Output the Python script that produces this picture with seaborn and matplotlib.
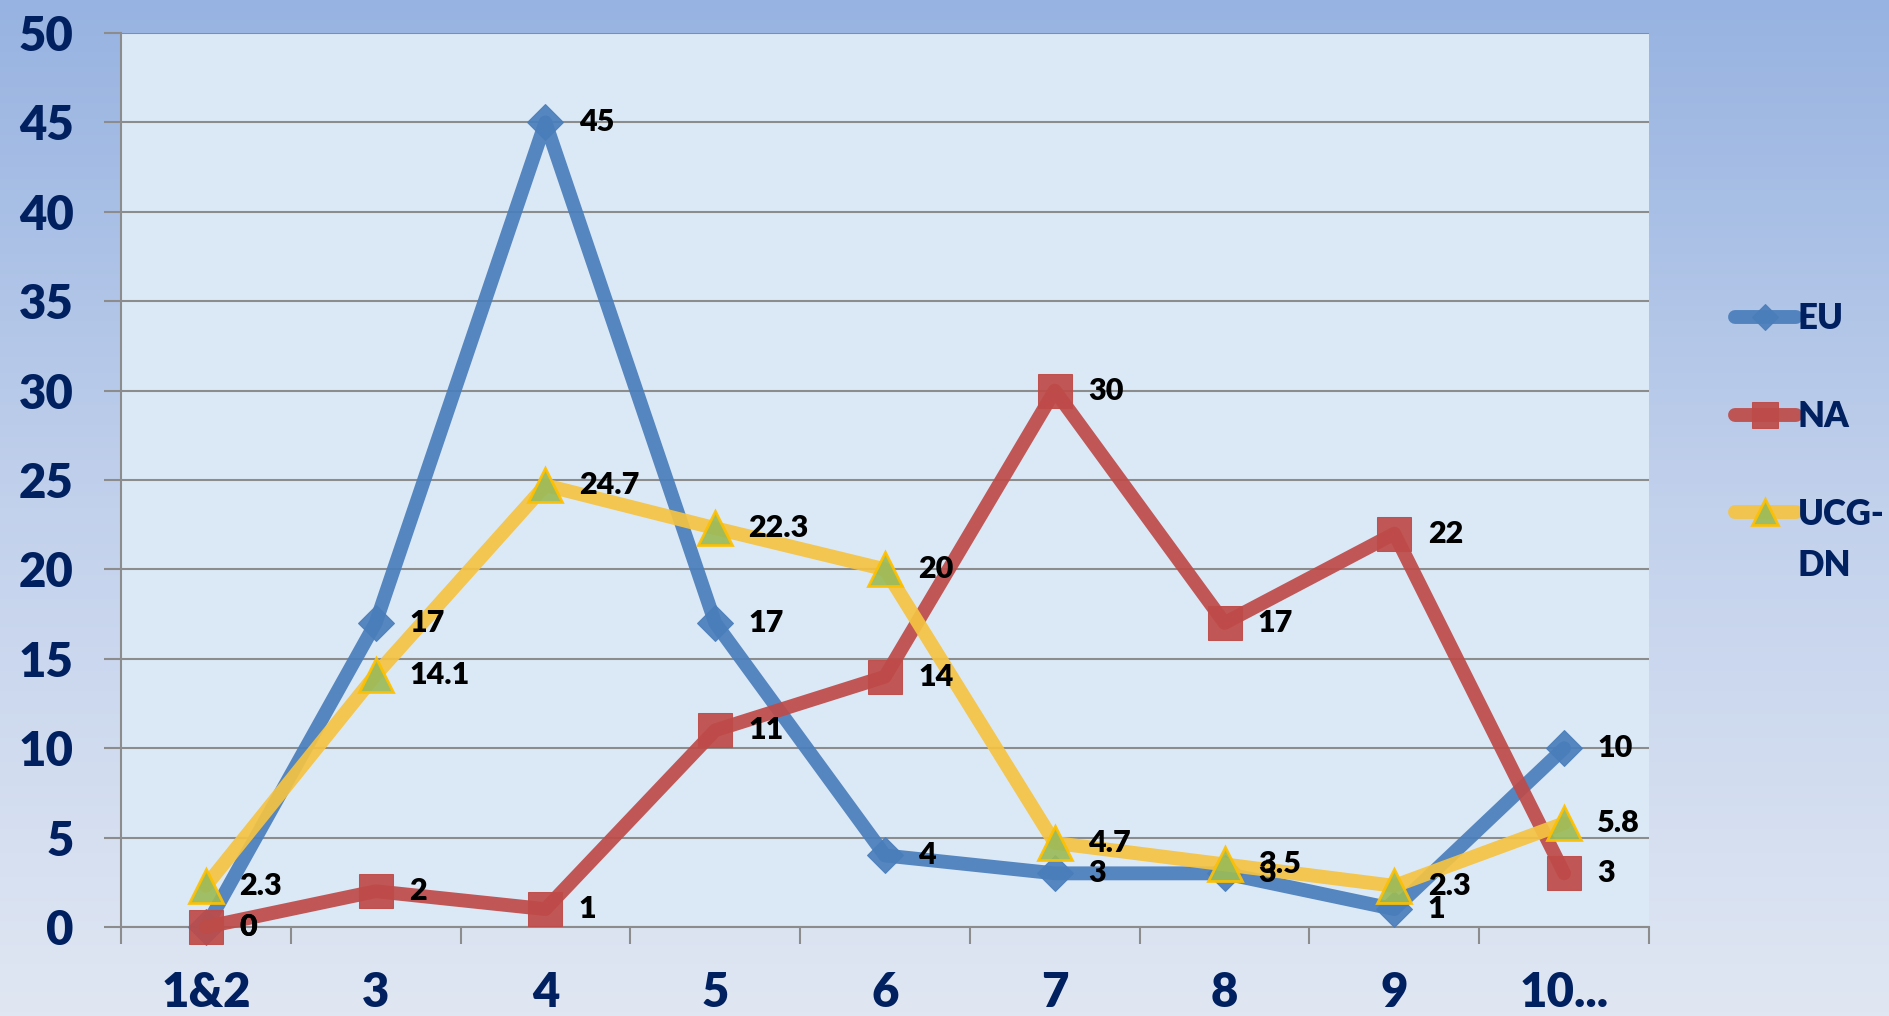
import numpy as np
import pandas as pd
import matplotlib.pyplot as plt
import seaborn as sns
from matplotlib.colors import LinearSegmentedColormap

plt.rcParams['font.family'] = ['Lato', 'DejaVu Sans']
plt.rcParams['font.weight'] = 'heavy'

categories = ['1&2', '3', '4', '5', '6', '7', '8', '9', '10...']
eu = [0, 17, 45, 17, 4, 3, 3, 1, 10]
na = [0, 2, 1, 11, 14, 30, 17, 22, 3]
ucg_dn = [2.3, 14.1, 24.7, 22.3, 20, 4.7, 3.5, 2.3, 5.8]

navy = '#002060'
grey = '#8c8c8c'

fig = plt.figure(figsize=(18.9, 10.16), dpi=100)

# gradient backdrop
bg = fig.add_axes([0, 0, 1, 1], zorder=-10)
grad = np.linspace(0, 1, 256).reshape(-1, 1)
cmap = LinearSegmentedColormap.from_list('bg', ['#97b3e1', '#c2d1ec', '#e0e7f3'])
bg.imshow(grad, aspect='auto', cmap=cmap, extent=[0, 1, 0, 1])
bg.axis('off')

ax = fig.add_axes([0.064, 0.0876, 0.8085, 0.88])
ax.set_facecolor('#dbe9f7')

common = dict(ax=ax, sort=False, linewidth=10, alpha=0.92, clip_on=False,
              solid_capstyle='round', solid_joinstyle='round')
sns.lineplot(x=categories, y=eu, color='#4a7ebb', marker='D', markersize=18,
             markeredgecolor='#4a7ebb', label='EU', zorder=3, **common)
sns.lineplot(x=categories, y=na, color='#be4b48', marker='s', markersize=25,
             markeredgecolor='#be4b48', label='NA', zorder=4, **common)
sns.lineplot(x=categories, y=ucg_dn, color='#f5c342', marker='^', markersize=25,
             markerfacecolor='#9bbb59', markeredgecolor='#ffc000',
             markeredgewidth=2, label='UCG-', zorder=5, **common)

# data labels
for series in (eu, na, ucg_dn):
    for cat, v in zip(categories, series):
        ax.annotate(f'{v:g}', (cat, v), xytext=(24, 0), textcoords='offset points',
                    ha='left', va='center', fontsize=22, fontweight='heavy',
                    color='black', zorder=6, annotation_clip=False)

ax.set_ylim(0, 50)
ax.set_yticks(np.arange(0, 51, 5))
ax.set_xlim(-0.5, 8.5)
ax.set_xticks(np.arange(-0.5, 9, 1), minor=True)
ax.grid(axis='y', color=grey, linewidth=1.5)
ax.set_axisbelow(True)

ax.tick_params(axis='y', which='major', length=12, width=1.5, color=grey,
               pad=22, labelsize=34, labelcolor=navy)
ax.tick_params(axis='x', which='major', length=0, pad=32, labelsize=34,
               labelcolor=navy)
ax.tick_params(axis='x', which='minor', length=12, width=1.5, color=grey)
for lab in ax.get_xticklabels() + ax.get_yticklabels():
    lab.set_fontweight('heavy')

for side in ('top', 'right'):
    ax.spines[side].set_visible(False)
for side in ('left', 'bottom'):
    ax.spines[side].set_color(grey)
    ax.spines[side].set_linewidth(1.5)
ax.set_xlabel('')
ax.set_ylabel('')

leg = ax.legend(loc='upper left', bbox_to_anchor=(0.918, 0.703),
                bbox_transform=fig.transFigure, frameon=False,
                prop={'size': 25, 'weight': 'heavy'}, labelcolor=navy,
                labelspacing=1.87, handlelength=1.75, handletextpad=0.05,
                borderpad=0, borderaxespad=0, markerscale=0.75)

# second line of the wrapped "UCG-DN" legend label
fig.canvas.draw()
ext = leg.get_texts()[2].get_window_extent()
fig.text(ext.x0 / fig.bbox.width, (ext.y0 - 51) / fig.bbox.height, 'DN',
         fontsize=25, fontweight='heavy', color=navy, ha='left', va='bottom')

fig.savefig('out.png', dpi=100)
